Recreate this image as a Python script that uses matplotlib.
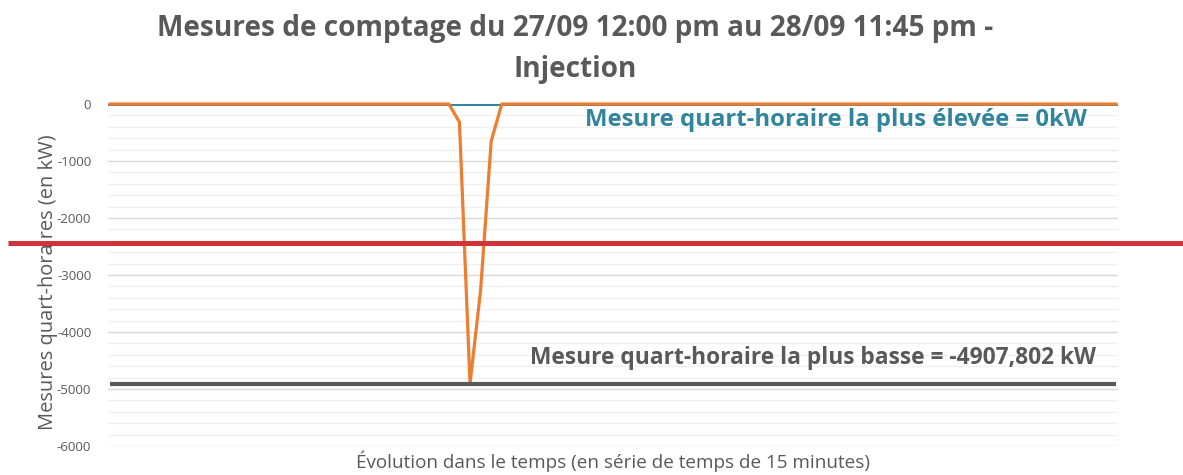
import numpy as np
import matplotlib
matplotlib.use('Agg')
import matplotlib.pyplot as plt
from matplotlib.ticker import MultipleLocator
import matplotlib.transforms as mtransforms

plt.rcParams['font.family'] = ['Open Sans', 'DejaVu Sans']
plt.rcParams['axes.unicode_minus'] = False

# quarter-hour measurements (kW), injection
mesures = [0] * 33 + [-316, -4907.802, -3263, -650] + [0] * 59
mesure_max = 0
mesure_min = -4907.802
seuil_rouge = -2440

title = 'Mesures de comptage du 27/09 12:00 pm au 28/09 11:45 pm -\nInjection'
label_max = 'Mesure quart-horaire la plus élevée = 0kW'
label_min = 'Mesure quart-horaire la plus basse = -4907,802 kW'

grey_txt = '#595959'
orange = '#ED7D31'
teal = '#31859C'

x = np.arange(len(mesures))

fig = plt.figure(figsize=(11.83, 4.75), dpi=100)
ax = fig.add_axes([0.0913, 0.061, 0.8537, 0.72])

ax.axhline(mesure_max, color=teal, linewidth=2.2, zorder=3)
ax.plot(x, mesures, color=orange, linewidth=2.3, zorder=4, clip_on=False,
        solid_joinstyle='round')
ax.plot([x[0], x[-1]], [mesure_min, mesure_min], color='#595959',
        linewidth=3, zorder=4, clip_on=False, solid_capstyle='butt')

# red threshold line drawn over the full width of the figure
trans = mtransforms.blended_transform_factory(ax.transAxes, ax.transData)
ax.plot([-0.099, 1.07], [seuil_rouge, seuil_rouge], transform=trans,
        color='#D13438', linewidth=3.6, clip_on=False, zorder=6,
        solid_capstyle='butt')

ax.set_xlim(-0.19, len(mesures) - 1 + 0.19)
ax.set_ylim(-6000, 0)
ax.yaxis.set_major_locator(MultipleLocator(1000))
ax.yaxis.set_minor_locator(MultipleLocator(200))
ax.grid(which='major', axis='y', color='#D9D9D9', linewidth=1)
ax.grid(which='minor', axis='y', color='#F0F0F0', linewidth=1)
ax.set_axisbelow(True)
ax.set_xticks([])
for s in ax.spines.values():
    s.set_visible(False)
ax.tick_params(axis='y', which='both', length=0, pad=12, labelsize=9.5,
               labelcolor=grey_txt)

ax.set_ylabel('Mesures quart-horaires (en kW)', fontsize=14.4,
              color=grey_txt, labelpad=4)
ax.yaxis.set_label_coords(-0.05, 0.48)
ax.set_xlabel('Évolution dans le temps (en série de temps de 15 minutes)',
              fontsize=13.6, color=grey_txt, labelpad=3)
ax.xaxis.set_label_coords(0.5, -0.012)

ax.text(68.6, -280, label_max, color=teal, fontsize=17.2, fontweight='bold',
        ha='center', va='center', zorder=7)
ax.text(66.4, -4456, label_min, color='#595959', fontsize=16.4,
        fontweight='bold', ha='center', va='center', zorder=7)

fig.text(0.486, 0.97, title, ha='center', va='top', fontsize=20.2,
         fontweight='bold', color=grey_txt, linespacing=1.55)

fig.savefig('out.png', dpi=100)
